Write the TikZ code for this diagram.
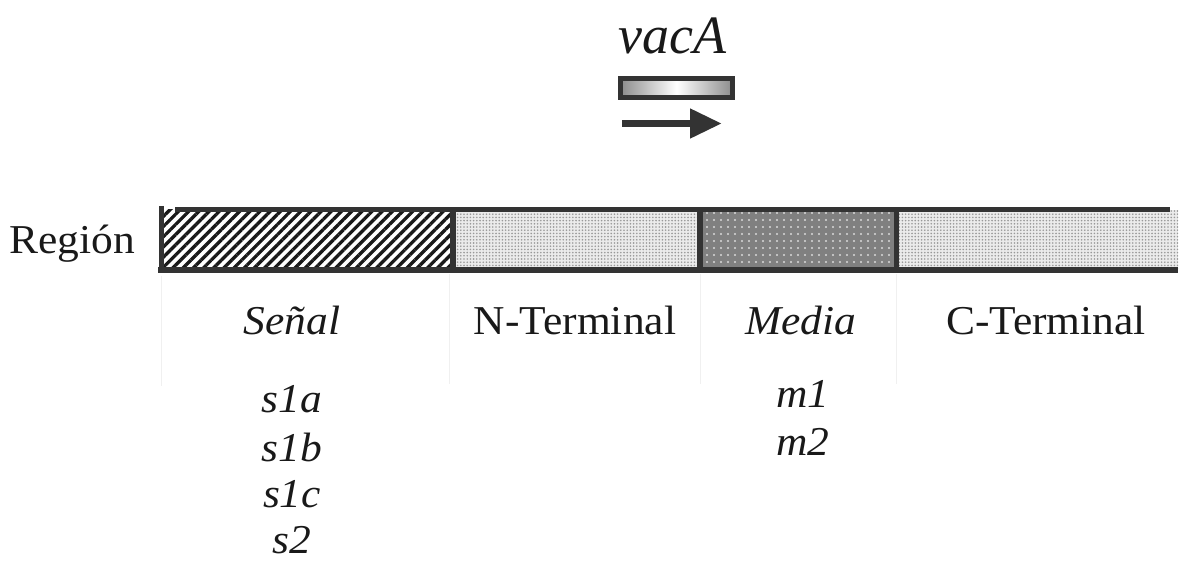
\documentclass[tikz,border=0pt]{standalone}
\usepackage{fontspec}
\setmainfont{Liberation Serif}
\newfontfamily\widefont[FakeStretch=1.06]{Liberation Serif}
\usetikzlibrary{arrows.meta,patterns.meta}
\definecolor{edge}{HTML}{333333}
\tikzset{
  lbl/.style={font=\widefont\fontsize{41}{41}\selectfont, anchor=base, inner sep=0pt, text=black!90},
  ilbl/.style={lbl, font=\widefont\fontsize{41}{41}\selectfont\itshape},
  seg/.style={draw=none, inner sep=0pt, minimum height=60.5pt, anchor=west},
  hatchseg/.style={seg, preaction={fill=white}, pattern={Lines[angle=45,distance=7.2pt,line width=3.3pt]}, pattern color=black!90},
  lightseg/.style={seg, preaction={fill=black!8}, pattern={Dots[radius=0.9pt,distance=3.2pt]}, pattern color=black!40},
  darkseg/.style={seg, preaction={fill=black!50}, pattern={Dots[radius=1.1pt,distance=7pt]}, pattern color=white!85!black},
  border/.style={draw=edge, line width=5.5pt},
  faint/.style={draw=black!6, line width=1pt},
}
\begin{document}
\begin{tikzpicture}[x=1pt,y=-1pt]
\useasboundingbox (0,0) rectangle (1182,563);
% gene label and bar
\node[font=\fontsize{54}{54}\selectfont\itshape, anchor=base, inner sep=0pt, text=black!90] (vac) at (672,53) {vacA};
\node[draw=edge, line width=5pt, minimum width=112pt, minimum height=19pt, inner sep=0pt,
      left color=black!45, right color=black!45, middle color=white] (gene) at (676.5,88) {};
\coordinate (arrS) at (622,123.5);
\coordinate (arrE) at (722,123.5);
\draw[edge, line width=7.5pt, -{Triangle[length=32pt,width=28pt]}] (arrS) -- (arrE);
% segments
\node[hatchseg, minimum width=288pt] (sig) at (161.5,239.75) {};
\node[lightseg, minimum width=250.5pt] (nt) at (449.5,239.75) {};
\node[darkseg, minimum width=196pt] (med) at (700,239.75) {};
\node[lightseg, minimum width=282pt] (ct) at (896,239.75) {};
% borders
\draw[border] (175,209.5) -- (1170,209.5);
\draw[border] (158,270) -- (1178,270);
\draw[border] (sig.north west) ++(0,-2) -- (sig.south west);
\draw[border] (sig.north east) -- (sig.south east);
\draw[border] (med.north west) -- (med.south west);
\draw[border] (med.north east) -- (med.south east);
% faint column guides
\draw[faint] (sig.south west) ++(0,4) -- ++(0,110);
\draw[faint] (nt.south west) ++(0,4) -- ++(0,110);
\draw[faint] (med.south west) ++(0,4) -- ++(0,110);
\draw[faint] (ct.south west) ++(0,4) -- ++(0,110);
% labels
\node[lbl] (reg) at (72,253) {Región};
\node[ilbl] (senal) at (292,334) {Señal};
\node[lbl] (nterm) at (575,334) {N-Terminal};
\node[ilbl] (media) at (801,334) {Media};
\node[lbl] (cterm) at (1046,334) {C-Terminal};
\node[ilbl] (s1a) at (292,412) {s1a};
\node[ilbl] (s1b) at (292,461) {s1b};
\node[ilbl] (s1c) at (292,507) {s1c};
\node[ilbl] (s2) at (292,553) {s2};
\node[ilbl] (m1) at (803,407) {m1};
\node[ilbl] (m2) at (803,455) {m2};
\end{tikzpicture}
\end{document}
